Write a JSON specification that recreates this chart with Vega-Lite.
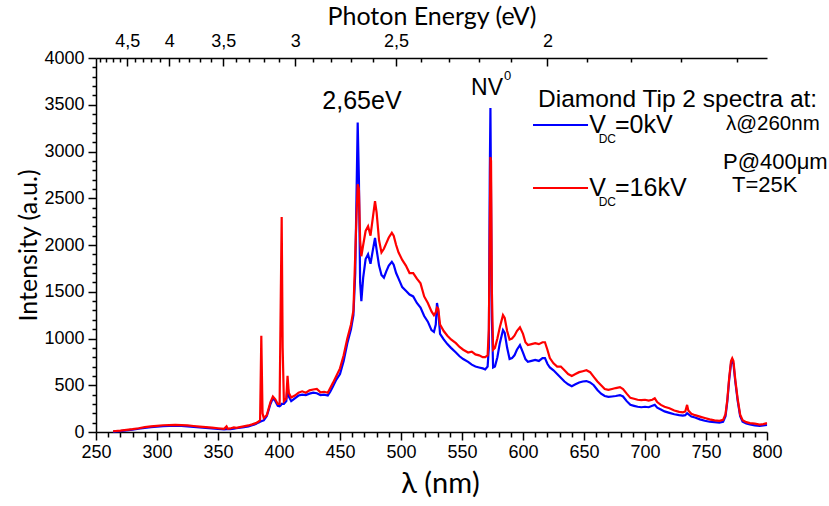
{
  "$schema": "https://vega.github.io/schema/vega-lite/v6.json",
  "width": 671,
  "height": 374,
  "autosize": "none",
  "padding": {"left": 96, "top": 58, "right": 62, "bottom": 74},
  "config": {
    "view": {"stroke": null},
    "font": "Liberation Sans",
    "axis": {"grid": false, "domainColor": "#000", "domainWidth": 1.5, "tickColor": "#000", "tickWidth": 1.5, "labelColor": "#000", "titleColor": "#000", "labelFont": "Liberation Sans", "labelFontSize": 18, "titleFont": "Lato", "titleFontWeight": "normal", "labelOverlap": false, "labelFlush": false}
  },
  "resolve": {"axis": {"y": "independent"}},
  "datasets": {
    "spec": [
      {"l":264,"b":5,"r":8},{"l":270,"b":10,"r":14},{"l":275,"b":18,"r":22},{"l":280,"b":25,"r":30},{"l":285,"b":35,"r":40},{"l":290,"b":45,"r":52},{"l":295,"b":52,"r":60},{"l":300,"b":58,"r":66},{"l":305,"b":62,"r":72},{"l":310,"b":64,"r":74},{"l":315,"b":66,"r":76},{"l":320,"b":65,"r":74},{"l":325,"b":60,"r":70},{"l":330,"b":55,"r":64},{"l":335,"b":50,"r":58},{"l":340,"b":45,"r":52},{"l":345,"b":38,"r":46},{"l":350,"b":32,"r":40},{"l":355,"b":28,"r":34},{"l":357,"b":30,"r":60},{"l":358,"b":30,"r":35},{"l":360,"b":30,"r":38},{"l":363,"b":35,"r":50},{"l":365,"b":40,"r":45},{"l":370,"b":50,"r":58},{"l":375,"b":60,"r":70},{"l":378,"b":72,"r":82},{"l":381,"b":85,"r":95},{"l":383,"b":100,"r":110},{"l":384.5,"b":110,"r":125},{"l":385.5,"b":115,"r":1030},{"l":386.5,"b":120,"r":200},{"l":387.5,"b":125,"r":150},{"l":390,"b":170,"r":180},{"l":393,"b":300,"r":320},{"l":395,"b":360,"r":380},{"l":397,"b":330,"r":350},{"l":399,"b":280,"r":300},{"l":400.5,"b":275,"r":300},{"l":401.5,"b":285,"r":1500},{"l":402.2,"b":300,"r":2300},{"l":403,"b":300,"r":900},{"l":404,"b":300,"r":330},{"l":406,"b":330,"r":360},{"l":407,"b":500,"r":600},{"l":408,"b":380,"r":420},{"l":410,"b":330,"r":370},{"l":413,"b":360,"r":390},{"l":416,"b":390,"r":420},{"l":419,"b":400,"r":435},{"l":422,"b":395,"r":420},{"l":425,"b":410,"r":445},{"l":428,"b":420,"r":455},{"l":431,"b":415,"r":460},{"l":434,"b":395,"r":425},{"l":437,"b":400,"r":430},{"l":440,"b":390,"r":420},{"l":442,"b":430,"r":470},{"l":444,"b":480,"r":520},{"l":447,"b":560,"r":600},{"l":450,"b":620,"r":680},{"l":453,"b":760,"r":820},{"l":456,"b":950,"r":1000},{"l":459,"b":1100,"r":1150},{"l":461,"b":1250,"r":1300},{"l":462.5,"b":1700,"r":1900},{"l":463.5,"b":2500,"r":2300},{"l":464.5,"b":3310,"r":2650},{"l":465.5,"b":2700,"r":2600},{"l":466.5,"b":1600,"r":2050},{"l":467.5,"b":1400,"r":1880},{"l":469,"b":1650,"r":2000},{"l":471,"b":1850,"r":2150},{"l":473,"b":1900,"r":2200},{"l":475,"b":1800,"r":2100},{"l":477,"b":1950,"r":2300},{"l":478.7,"b":2075,"r":2470},{"l":480,"b":1950,"r":2350},{"l":482,"b":1780,"r":2050},{"l":484,"b":1680,"r":1920},{"l":486,"b":1650,"r":1960},{"l":488,"b":1720,"r":2020},{"l":490,"b":1780,"r":2080},{"l":492.5,"b":1820,"r":2130},{"l":494,"b":1790,"r":2100},{"l":496,"b":1700,"r":2000},{"l":498,"b":1640,"r":1920},{"l":501,"b":1550,"r":1840},{"l":504,"b":1510,"r":1780},{"l":507,"b":1470,"r":1700},{"l":510,"b":1450,"r":1700},{"l":513,"b":1380,"r":1640},{"l":516,"b":1330,"r":1590},{"l":519,"b":1240,"r":1450},{"l":522,"b":1180,"r":1380},{"l":525,"b":1090,"r":1290},{"l":527,"b":1070,"r":1250},{"l":528.5,"b":1150,"r":1280},{"l":529.5,"b":1380,"r":1330},{"l":530.5,"b":1300,"r":1320},{"l":532,"b":1050,"r":1150},{"l":535,"b":990,"r":1080},{"l":538,"b":940,"r":1030},{"l":541,"b":900,"r":990},{"l":545,"b":850,"r":950},{"l":548,"b":810,"r":910},{"l":551,"b":780,"r":880},{"l":555,"b":750,"r":850},{"l":558,"b":720,"r":860},{"l":561,"b":700,"r":830},{"l":564,"b":690,"r":820},{"l":567,"b":680,"r":800},{"l":569,"b":670,"r":800},{"l":571,"b":700,"r":820},{"l":572,"b":900,"r":1100},{"l":572.8,"b":2800,"r":2200},{"l":573.3,"b":3465,"r":2940},{"l":573.8,"b":2500,"r":2900},{"l":574.5,"b":1200,"r":1500},{"l":575.5,"b":690,"r":880},{"l":577,"b":700,"r":900},{"l":579,"b":800,"r":1000},{"l":581,"b":950,"r":1120},{"l":583.6,"b":1090,"r":1250},{"l":585,"b":1060,"r":1220},{"l":587,"b":900,"r":1080},{"l":589,"b":780,"r":990},{"l":591,"b":790,"r":1000},{"l":593,"b":820,"r":1030},{"l":595,"b":880,"r":1080},{"l":597.5,"b":930,"r":1120},{"l":600,"b":850,"r":1050},{"l":602,"b":780,"r":960},{"l":604,"b":750,"r":930},{"l":607,"b":760,"r":940},{"l":610,"b":770,"r":950},{"l":613,"b":760,"r":940},{"l":616,"b":790,"r":960},{"l":618,"b":790,"r":960},{"l":620,"b":730,"r":880},{"l":622,"b":690,"r":790},{"l":625,"b":660,"r":735},{"l":628,"b":620,"r":700},{"l":631,"b":580,"r":700},{"l":634,"b":540,"r":660},{"l":637,"b":510,"r":620},{"l":640,"b":490,"r":600},{"l":643,"b":510,"r":620},{"l":646,"b":530,"r":640},{"l":649,"b":540,"r":650},{"l":652,"b":545,"r":660},{"l":655,"b":530,"r":640},{"l":658,"b":500,"r":590},{"l":661,"b":450,"r":540},{"l":664,"b":410,"r":500},{"l":667,"b":385,"r":460},{"l":670,"b":375,"r":450},{"l":673,"b":380,"r":460},{"l":676,"b":385,"r":470},{"l":679.5,"b":395,"r":480},{"l":682,"b":380,"r":460},{"l":685,"b":330,"r":410},{"l":688,"b":290,"r":365},{"l":691,"b":280,"r":355},{"l":694,"b":270,"r":345},{"l":697,"b":265,"r":340},{"l":700,"b":270,"r":345},{"l":703,"b":265,"r":335},{"l":706,"b":280,"r":345},{"l":708,"b":290,"r":360},{"l":710,"b":260,"r":320},{"l":713,"b":240,"r":290},{"l":716,"b":220,"r":270},{"l":720,"b":205,"r":255},{"l":724,"b":190,"r":230},{"l":728,"b":180,"r":215},{"l":731,"b":175,"r":210},{"l":733,"b":180,"r":220},{"l":734.5,"b":200,"r":290},{"l":735.5,"b":190,"r":230},{"l":738,"b":165,"r":195},{"l":741,"b":155,"r":180},{"l":745,"b":135,"r":165},{"l":749,"b":120,"r":150},{"l":753,"b":110,"r":135},{"l":757,"b":105,"r":125},{"l":761,"b":100,"r":120},{"l":764,"b":110,"r":130},{"l":766,"b":170,"r":190},{"l":767.5,"b":330,"r":350},{"l":769,"b":560,"r":580},{"l":770.5,"b":730,"r":760},{"l":771.5,"b":760,"r":790},{"l":772.5,"b":730,"r":760},{"l":774,"b":540,"r":560},{"l":776,"b":330,"r":350},{"l":778,"b":170,"r":185},{"l":780,"b":110,"r":125},{"l":783,"b":90,"r":105},{"l":786,"b":80,"r":95},{"l":790,"b":70,"r":90},{"l":794,"b":65,"r":80},{"l":797,"b":70,"r":85},{"l":800,"b":75,"r":95}
    ]
  },
  "layer": [
    {
      "data": {"name": "spec"},
      "mark": {"type": "line", "color": "#0000ff", "strokeWidth": 2.2},
      "encoding": {
        "x": {"field": "l", "type": "quantitative", "scale": {"domain": [250, 800], "nice": false, "zero": false},
          "axis": {"orient": "bottom", "title": "λ (nm)", "titleFontSize": 29, "titlePadding": 8, "titleX": 344, "labelOverlap": false,
            "values": [250,260,270,280,290,300,310,320,330,340,350,360,370,380,390,400,410,420,430,440,450,460,470,480,490,500,510,520,530,540,550,560,570,580,590,600,610,620,630,640,650,660,670,680,690,700,710,720,730,740,750,760,770,780,790,800],
            "format": "d",
            "labelExpr": "datum.value % 50 == 0 ? datum.label : ''",
            "tickSize": {"condition": {"test": "datum.value % 50 == 0", "value": 8}, "value": 5},
            "labelPadding": 3}},
        "y": {"field": "b", "type": "quantitative", "scale": {"domain": [0, 4000], "nice": false},
          "axis": {"orient": "left", "title": "Intensity (a.u.)", "titleFontSize": 25, "titlePadding": 2, "labelOverlap": false,
            "values": [0,100,200,300,400,500,600,700,800,900,1000,1100,1200,1300,1400,1500,1600,1700,1800,1900,2000,2100,2200,2300,2400,2500,2600,2700,2800,2900,3000,3100,3200,3300,3400,3500,3600,3700,3800,3900,4000],
            "format": "d",
            "labelExpr": "datum.value % 500 == 0 ? datum.label : ''",
            "tickSize": {"condition": {"test": "datum.value % 500 == 0", "value": 8}, "value": 4},
            "labelPadding": 4}}
      }
    },
    {
      "data": {"name": "spec"},
      "mark": {"type": "line", "color": "#ff0000", "strokeWidth": 2.2},
      "encoding": {
        "x": {"field": "l", "type": "quantitative",
          "axis": {"orient": "top", "title": "Photon Energy (eV)", "titleFontSize": 25, "titlePadding": -1, "labelOverlap": false,
            "values": [253.06,258.33,263.83,269.57,275.56,281.82,288.37,295.24,302.44,310,317.95,326.32,335.14,344.44,354.29,364.71,375.76,387.5,400,413.33,427.59,442.86,459.26,476.92,496,516.67,539.13,563.64,590.48,620,652.63,688.89,729.41,775],
            "labelExpr": "abs(1240/datum.value*2 - round(1240/datum.value*2)) < 0.02 ? replace(format(1240/datum.value, '.1~f'), '.', ',') : ''",
            "tickSize": {"condition": {"test": "abs(1240/datum.value*2 - round(1240/datum.value*2)) < 0.02", "value": -8}, "value": -4},
            "labelPadding": 16}},
        "y": {"field": "r", "type": "quantitative", "axis": null}
      }
    },
    {
      "data": {"values": [{"t": "2,65eV"}]},
      "mark": {"type": "text", "fontSize": 25, "align": "center", "baseline": "middle", "color": "#000"},
      "encoding": {"x": {"datum": 468, "type": "quantitative", "axis": null}, "y": {"datum": 3540, "type": "quantitative", "axis": null}, "text": {"field": "t"}}
    },
    {
      "data": {"values": [{"t": "NV"}]},
      "mark": {"type": "text", "fontSize": 23, "align": "center", "baseline": "middle", "color": "#000"},
      "encoding": {"x": {"datum": 570.5, "type": "quantitative", "axis": null}, "y": {"datum": 3679, "type": "quantitative", "axis": null}, "text": {"field": "t"}}
    },
    {
      "data": {"values": [{"t": "0"}]},
      "mark": {"type": "text", "fontSize": 13, "align": "left", "baseline": "middle", "color": "#000"},
      "encoding": {"x": {"datum": 584.5, "type": "quantitative", "axis": null}, "y": {"datum": 3807, "type": "quantitative", "axis": null}, "text": {"field": "t"}}
    },
    {
      "data": {"values": [{"t": "Diamond Tip 2 spectra at:"}]},
      "mark": {"type": "text", "fontSize": 24.5, "align": "left", "baseline": "middle", "color": "#000"},
      "encoding": {"x": {"datum": 612.3, "type": "quantitative", "axis": null}, "y": {"datum": 3551, "type": "quantitative", "axis": null}, "text": {"field": "t"}}
    },
    {
      "data": {"values": [{"s": "b"}]},
      "mark": {"type": "rule", "color": "#0000ff", "strokeWidth": 2},
      "encoding": {"x": {"datum": 608.2, "type": "quantitative", "axis": null}, "x2": {"datum": 653.3}, "y": {"datum": 3283, "type": "quantitative", "axis": null}}
    },
    {
      "data": {"values": [{"s": "r"}]},
      "mark": {"type": "rule", "color": "#ff0000", "strokeWidth": 2},
      "encoding": {"x": {"datum": 608.2, "type": "quantitative", "axis": null}, "x2": {"datum": 653.3}, "y": {"datum": 2610, "type": "quantitative", "axis": null}}
    },
    {
      "data": {"values": [{"t": "V", "y": 3283}, {"t": "V", "y": 2610}]},
      "mark": {"type": "text", "fontSize": 25, "align": "left", "baseline": "middle", "color": "#000"},
      "encoding": {"x": {"datum": 654.3, "type": "quantitative", "axis": null}, "y": {"field": "y", "type": "quantitative", "axis": null}, "text": {"field": "t"}}
    },
    {
      "data": {"values": [{"t": "DC", "y": 3134}, {"t": "DC", "y": 2461}]},
      "mark": {"type": "text", "fontSize": 12, "align": "left", "baseline": "middle", "color": "#000"},
      "encoding": {"x": {"datum": 662, "type": "quantitative", "axis": null}, "y": {"field": "y", "type": "quantitative", "axis": null}, "text": {"field": "t"}}
    },
    {
      "data": {"values": [{"t": "=0kV", "y": 3283}, {"t": "=16kV", "y": 2610}]},
      "mark": {"type": "text", "fontSize": 25, "align": "left", "baseline": "middle", "color": "#000"},
      "encoding": {"x": {"datum": 675.4, "type": "quantitative", "axis": null}, "y": {"field": "y", "type": "quantitative", "axis": null}, "text": {"field": "t"}}
    },
    {
      "data": {"values": [{"t": "λ@260nm"}]},
      "mark": {"type": "text", "fontSize": 20.5, "align": "left", "baseline": "middle", "color": "#000"},
      "encoding": {"x": {"datum": 766.4, "type": "quantitative", "axis": null}, "y": {"datum": 3294, "type": "quantitative", "axis": null}, "text": {"field": "t"}}
    },
    {
      "data": {"values": [{"t": "P@400μm", "x": 763.9, "y": 2888}, {"t": "T=25K", "x": 771.3, "y": 2642}]},
      "mark": {"type": "text", "fontSize": 22, "align": "left", "baseline": "middle", "color": "#000"},
      "encoding": {"x": {"field": "x", "type": "quantitative", "axis": null}, "y": {"field": "y", "type": "quantitative", "axis": null}, "text": {"field": "t"}}
    }
  ]
}
